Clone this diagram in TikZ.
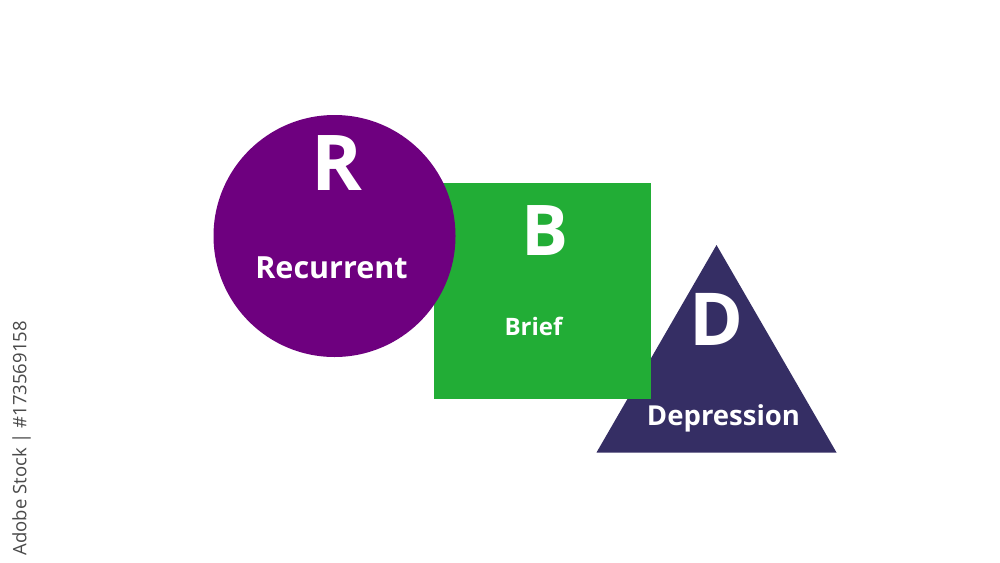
\documentclass[tikz,border=0pt]{standalone}
\usepackage{fontspec}
\setmainfont{Open Sans}
\definecolor{rpurple}{HTML}{6E007F}
\definecolor{bgreen}{HTML}{22AD36}
\definecolor{dnavy}{HTML}{352E64}
\definecolor{wmgray}{HTML}{4A4A4A}
\begin{document}
\begin{tikzpicture}[x=1pt,y=-1pt,
  lettertxt/.style={text=white,font=\bfseries,inner sep=0pt,anchor=base},
  wordtxt/.style={text=white,font=\bfseries,inner sep=0pt,anchor=base}]
\useasboundingbox (0,0) rectangle (1000,562);
\fill[white] (0,0) rectangle (1000,562);
% triangle
\coordinate (tA) at (716.5,245);
\coordinate (tL) at (596.5,452.5);
\coordinate (tR) at (836.5,452.5);
\fill[dnavy] (tA) -- (tL) -- (tR) -- cycle;
% square
\node[fill=bgreen,minimum width=217pt,minimum height=216pt,inner sep=0pt,draw=none] (sq) at (542.5,291) {};
% circle
\node[circle,fill=rpurple,minimum size=242pt,inner sep=0pt,draw=none] (ci) at (334.5,236) {};
% texts
\node[lettertxt,font=\bfseries\fontsize{77}{77}\selectfont] (tR1) at (337,190) {R};
\node[wordtxt,font=\bfseries\fontsize{30.5}{30.5}\selectfont] (tRec) at (331.5,278.5) {Recurrent};
\node[lettertxt,font=\bfseries\fontsize{70}{70}\selectfont] (tB1) at (545.5,255) {B};
\node[wordtxt,font=\bfseries\fontsize{24}{24}\selectfont] (tBr) at (533.5,335) {Brief};
\node[lettertxt,font=\bfseries\fontsize{73}{73}\selectfont] (tD1) at (716.5,345) {D};
\node[wordtxt,font=\bfseries\fontsize{27.5}{27.5}\selectfont] (tDep) at (723.5,425) {Depression};
% side text
\node[text=wmgray,font=\fontsize{18.5}{18.5}\selectfont,rotate=90,anchor=south east,inner sep=0pt] (side) at (31,321) {Adobe Stock | \#173569158};
\end{tikzpicture}
\end{document}
